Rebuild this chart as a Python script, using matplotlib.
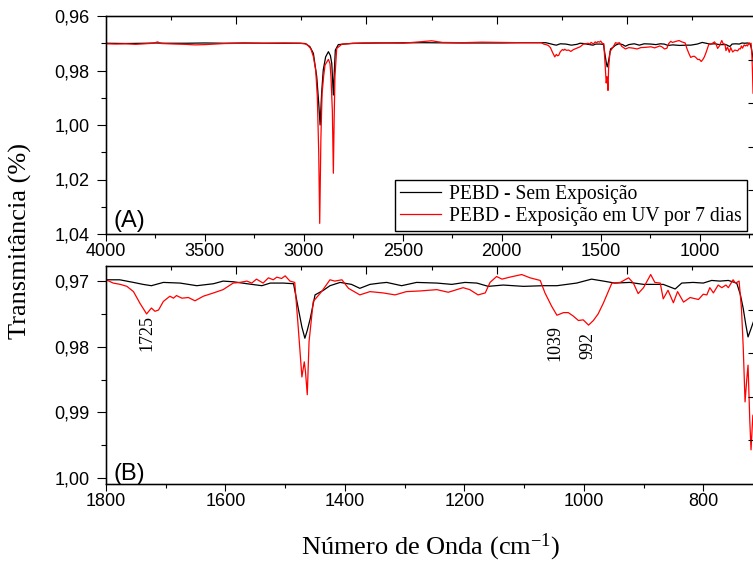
import matplotlib
matplotlib.use('Agg')
import matplotlib.pyplot as plt

# ---------------- data ----------------
wn_black = [4000, 3900, 3800, 3750, 3700, 3600, 3500, 3400, 3300, 3200, 3100, 3020,
            2994, 2970, 2952, 2935, 2925, 2918, 2910, 2902, 2890, 2876, 2866, 2859,
            2851, 2846, 2841, 2826, 2752, 2600, 2400, 2200, 2000, 1900, 1800,
            1777, 1754, 1738, 1724, 1704, 1676, 1648, 1620, 1604, 1587, 1564, 1539,
            1525, 1503, 1486, 1478, 1472, 1467, 1463, 1458, 1450, 1436, 1425, 1408,
            1389, 1375, 1358, 1341, 1330, 1305, 1280, 1246, 1221, 1199, 1179, 1160,
            1135, 1101, 1068, 1045, 1012, 987, 967, 948, 923, 900, 867, 847, 836,
            817, 800, 786, 772, 758, 744, 738, 733, 729, 725, 721, 716, 710]
t_black = [0.9700, 0.9701, 0.9700, 0.9699, 0.9700, 0.9700, 0.9699, 0.9700, 0.9699, 0.9700, 0.9700, 0.9700,
           0.9701, 0.9712, 0.9737, 0.9823, 0.9920, 1.0000, 0.9880, 0.9798, 0.9750, 0.9731, 0.9745, 0.9774,
           0.9890, 0.9800, 0.9725, 0.9705, 0.9700, 0.9699, 0.9698, 0.9699, 0.9699, 0.9698, 0.9698,
           0.9698, 0.9702, 0.9705, 0.9707, 0.9702, 0.9703, 0.9707, 0.9704, 0.9700, 0.9701, 0.9704, 0.9707,
           0.9703, 0.9703, 0.9704, 0.9742, 0.9770, 0.9787, 0.9775, 0.9757, 0.9721, 0.9714, 0.9707, 0.9702,
           0.9705, 0.9711, 0.9705, 0.9703, 0.9702, 0.9707, 0.9702, 0.9703, 0.9705, 0.9702, 0.9703, 0.9708,
           0.9706, 0.9708, 0.9707, 0.9707, 0.9703, 0.9697, 0.9700, 0.9703, 0.9702, 0.9705, 0.9705, 0.9712, 0.9703,
           0.9702, 0.9703, 0.9699, 0.9700, 0.9699, 0.9703, 0.9720, 0.9742, 0.9765, 0.9785, 0.9775, 0.9762, 0.9755]

wn_red = [4000, 3950, 3900, 3850, 3800, 3760, 3740, 3720, 3650, 3600, 3550, 3500, 3450, 3400,
          3300, 3200, 3100, 3020, 2986, 2965, 2952, 2940, 2932, 2925, 2920, 2914, 2908, 2900,
          2893, 2876, 2868, 2863, 2856, 2851, 2847, 2843, 2834, 2807, 2700, 2615, 2500, 2354,
          2300, 2200, 2100, 2000, 1900, 1800,
          1788, 1776, 1765, 1754, 1743, 1732, 1724, 1718, 1712, 1704, 1693, 1687, 1682, 1673,
          1662, 1651, 1637, 1620, 1604, 1587, 1576, 1564, 1556, 1548, 1537, 1528, 1520, 1514,
          1506, 1500, 1492, 1484, 1478, 1472, 1468, 1466, 1463, 1460, 1453, 1439, 1425, 1417,
          1405, 1394, 1375, 1358, 1336, 1316, 1297, 1274, 1246, 1227, 1202, 1191, 1177, 1165,
          1157, 1146, 1137, 1124, 1104, 1090, 1073, 1065, 1054, 1045, 1034, 1026, 1018, 1009,
          1001, 992, 984, 976, 967, 953, 939, 925, 917, 909, 900, 888, 881, 872, 867, 859,
          850, 843, 833, 822, 808, 800, 794, 789, 783, 775, 769, 762, 758, 750, 746, 740,
          736, 733, 730, 727, 725, 722, 720, 717, 714, 710]
t_red = [0.9702, 0.9703, 0.9702, 0.9704, 0.9702, 0.9700, 0.9695, 0.9701, 0.9703, 0.9704, 0.9706, 0.9705, 0.9703, 0.9701,
         0.9700, 0.9700, 0.9699, 0.9700, 0.9703, 0.9720, 0.9749, 0.9800, 0.9896, 1.0100, 1.0361, 1.0050, 0.9884, 0.9820,
         0.9780, 0.9759, 0.9775, 0.9823, 0.9950, 1.0177, 0.9980, 0.9823, 0.9719, 0.9703, 0.9699, 0.9698, 0.9700, 0.9691,
         0.9697, 0.9698, 0.9696, 0.9697, 0.9698, 0.9698,
         0.9703, 0.9705, 0.9708, 0.9716, 0.9734, 0.9750, 0.9741, 0.9746, 0.9744, 0.9731, 0.9723, 0.9726, 0.9722, 0.9726,
         0.9725, 0.9730, 0.9723, 0.9718, 0.9713, 0.9703, 0.9702, 0.9700, 0.9703, 0.9697, 0.9703, 0.9695, 0.9698, 0.9694,
         0.9696, 0.9692, 0.9700, 0.9702, 0.9772, 0.9846, 0.9823, 0.9838, 0.9873, 0.9792, 0.9731, 0.9716, 0.9698, 0.9700,
         0.9698, 0.9711, 0.9721, 0.9716, 0.9718, 0.9721, 0.9716, 0.9715, 0.9713, 0.9717, 0.9710, 0.9713, 0.9721, 0.9718,
         0.9702, 0.9693, 0.9697, 0.9694, 0.9690, 0.9695, 0.9699, 0.9718, 0.9738, 0.9752, 0.9748, 0.9748, 0.9753, 0.9760,
         0.9759, 0.9767, 0.9760, 0.9750, 0.9733, 0.9703, 0.9702, 0.9695, 0.9703, 0.9719, 0.9710, 0.9690, 0.9702, 0.9703, 0.9727, 0.9714,
         0.9733, 0.9716, 0.9732, 0.9725, 0.9728, 0.9720, 0.9721, 0.9710, 0.9718, 0.9706, 0.9710, 0.9706, 0.9710, 0.9698, 0.9703, 0.9700,
         0.9742, 0.9802, 0.9884, 0.9848, 0.9828, 0.9914, 0.9957, 0.9905, 0.9900, 0.9900]

series_labels = ['PEBD - Sem Exposição', 'PEBD - Exposição em UV por 7 dias']
series_colors = ['black', 'red']

xticks_a = [4000, 3500, 3000, 2500, 2000, 1500, 1000]
xminor_a = [3750, 3250, 2750, 2250, 1750, 1250, 750]
yticks_a = [0.96, 0.98, 1.00, 1.02, 1.04]
yticklabels_a = ['0,96', '0,98', '1,00', '1,02', '1,04']
yminor_a = [0.97, 0.99, 1.01, 1.03]

xticks_b = [1800, 1600, 1400, 1200, 1000, 800]
xminor_b = [1700, 1500, 1300, 1100, 900]
yticks_b = [0.97, 0.98, 0.99, 1.00]
yticklabels_b = ['0,97', '0,98', '0,99', '1,00']
yminor_b = [0.975, 0.985, 0.995]

peak_labels = ['1725', '1039', '992']
peak_x = [1731, 1048, 994]
peak_y = [0.97795, 0.97947, 0.97985]

# ---------------- figure ----------------
plt.rcParams['mathtext.fontset'] = 'custom'
plt.rcParams['mathtext.rm'] = 'Liberation Serif'
plt.rcParams['mathtext.it'] = 'Liberation Serif:italic'

W, H = 753, 561
fig = plt.figure(figsize=(W / 100, H / 100), dpi=100)


def rect(l, t, r, b):
    return [l / W, 1 - b / H, (r - l) / W, (b - t) / H]


axA = fig.add_axes(rect(106, 16, 757, 234))
axB = fig.add_axes(rect(106, 266, 757, 484))

tick_font = dict(family='Liberation Sans', size=13)


def style(ax, xt, xm, yt, ytl, ym, xlim, ylim):
    ax.set_xlim(*xlim)
    ax.set_ylim(*ylim)
    ax.set_xticks(xt)
    ax.set_xticklabels([str(v) for v in xt], fontdict=tick_font)
    ax.set_xticks(xm, minor=True)
    ax.set_yticks(yt)
    ax.set_yticklabels(ytl, fontdict=tick_font)
    ax.set_yticks(ym, minor=True)
    ax.tick_params(axis='y', which='major', direction='out', length=6.5, width=0.8, pad=5.5)
    ax.tick_params(axis='y', which='minor', direction='out', length=3.6, width=0.8)
    ax.tick_params(axis='x', which='major', direction='out', length=5, width=0.8, pad=1.5)
    ax.tick_params(axis='x', which='minor', direction='out', length=3, width=0.8)
    for s in ax.spines.values():
        s.set_linewidth(1.0)
    top = ax.twiny()
    top.set_xlim(0, 1)
    top.set_xticks([0.2, 0.4, 0.6, 0.8])
    top.set_xticks([0.1, 0.3, 0.5, 0.7, 0.9], minor=True)
    top.tick_params(axis='x', which='both', direction='in', top=True, bottom=False,
                    labeltop=False, labelbottom=False, width=0.8)
    top.tick_params(axis='x', which='major', length=6)
    top.tick_params(axis='x', which='minor', length=3)
    right = ax.twinx()
    right.set_ylim(0, 1)
    right.set_yticks([0.2, 0.4, 0.6, 0.8])
    right.set_yticks([0.1, 0.3, 0.5, 0.7, 0.9], minor=True)
    right.tick_params(axis='y', which='both', direction='in', right=True, left=False,
                      labelright=False, labelleft=False, width=0.8)
    right.tick_params(axis='y', which='major', length=6.5)
    right.tick_params(axis='y', which='minor', length=3)


for ax in (axA, axB):
    ax.plot(wn_black, t_black, color=series_colors[0], lw=0.9, label=series_labels[0])
    ax.plot(wn_red, t_red, color=series_colors[1], lw=0.9, label=series_labels[1])

leg = axA.legend(loc='lower right', bbox_to_anchor=(0.9846, 0.0138), borderaxespad=0,
                 prop=dict(family='Liberation Serif', size=14.1), fancybox=False,
                 edgecolor='black', framealpha=1, borderpad=0.25, labelspacing=0.15,
                 handlelength=2.1, handletextpad=0.4)
leg.get_frame().set_linewidth(1.0)

style(axA, xticks_a, xminor_a, yticks_a, yticklabels_a, yminor_a, (4000, 710), (1.04, 0.96))
style(axB, xticks_b, xminor_b, yticks_b, yticklabels_b, yminor_b, (1800, 710), (1.0009, 0.9677))

axA.text(0.011, 0.033, '(A)', transform=axA.transAxes, family='Liberation Sans', size=17,
         ha='left', va='baseline')
axB.text(0.011, 0.018, '(B)', transform=axB.transAxes, family='Liberation Sans', size=17,
         ha='left', va='baseline')

for lab, x, y in zip(peak_labels, peak_x, peak_y):
    axB.text(x, y, lab, rotation=90, ha='center', va='center',
             family='Liberation Serif', size=13)

fig.text(20 / W, 1 - 241 / H, 'Transmitância (%)', rotation=90, ha='center', va='center',
         family='Liberation Serif', size=19)
fig.text(431 / W, 1 - 554 / H, 'Número de Onda (cm$^{\\mathregular{-1}}$)', ha='center', va='baseline',
         family='Liberation Serif', size=19)

fig.savefig('out.png', dpi=100)
